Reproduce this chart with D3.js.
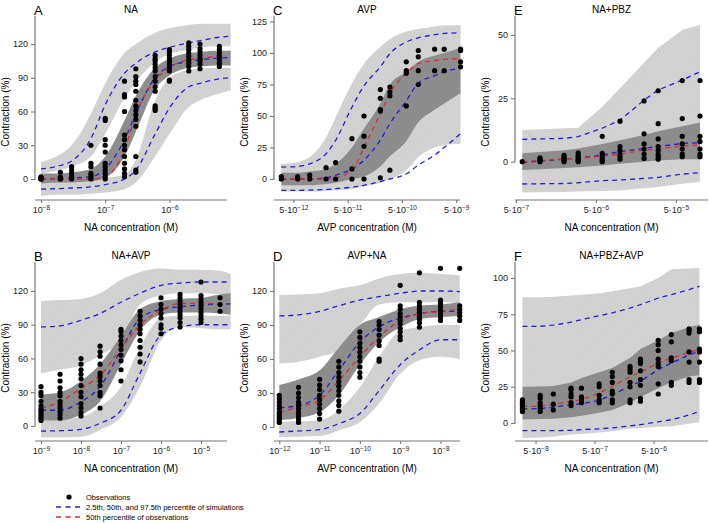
<!DOCTYPE html>
<html>
<head>
<meta charset="utf-8">
<script src="https://cdn.jsdelivr.net/npm/d3@7"></script>
<style>
  body { margin: 0; background: #fff; }
  svg { font-family: "Liberation Sans", Arial, Helvetica, sans-serif; }
</style>
</head>
<body>
<div id="chart"></div>
<script>
// ---- Panel A : NA ----
var concA = [1e-8, 2e-8, 3e-8, 6e-8, 1e-7, 2e-7, 3e-7, 6e-7, 1e-6, 2e-6, 3e-6, 6e-6];
var obsA = [
  [0, 0, 0, 1, 1, 2], [0, 0, 1, 2, 6], [0, 1, 2, 5, 8, 11], [0, 1, 3, 5, 11, 14, 30],
  [0, 2, 5, 8, 11, 14, 24, 30, 35, 52, 54],
  [2, 5, 9, 14, 20, 26, 30, 35, 39, 60, 73, 75, 87],
  [6, 8, 20, 47, 53, 57, 61, 65, 70, 78, 84, 87, 91, 98],
  [61, 63, 65, 78, 82, 87, 91, 96, 99, 102, 105, 107, 110],
  [87, 88, 96, 99, 102, 105, 107, 110, 113, 115],
  [96, 100, 103, 106, 109, 112, 115, 118, 121],
  [98, 102, 105, 107, 110, 113, 116, 120],
  [100, 103, 106, 109, 112, 115, 118]
];
var obsMedA = [0, 0, 0, 0, 2, 26, 57, 88, 99, 106, 107, 110];
var simConcA = [1e-8, 2e-8, 3e-8, 6e-8, 1e-7, 2e-7, 3e-7, 6e-7, 1e-6, 2e-6, 3e-6, 6e-6, 9e-6];
var p975A = [9, 12, 16, 36, 66, 94, 103, 113, 117, 121, 123, 126, 127];
var p50A = [0, 0.5, 1, 2, 9, 35, 58, 90, 100, 104.5, 106, 107.5, 108];
var p025A = [-9, -8.5, -8, -7, -5, 0, 8, 40, 63, 82, 85, 89, 90];
var ciHiA = [[5,15],[8,22],[11,30],[20,58],[40,85],[72,112],[86,120],[104,130],[111,134],[115,137],[117,138],[118,138],[118,138]];
var ciMedA = [[-4,5],[-3,5],[-3,6],[-2,9],[1,20],[20,52],[42,74],[80,99],[92,107],[99,112],[100,113],[101,114],[101,114]];
var ciLoA = [[-15,-2],[-14,-2],[-14,-1],[-13,0],[-12,1],[-9,4],[-3,17],[20,70],[40,90],[64,97],[70,98],[76,99],[79,99]];

// ---- Panel B : NA+AVP ----
var concB = [1e-9, 3e-9, 1e-8, 3e-8, 1e-7, 3e-7, 1e-6, 3e-6, 1e-5, 3e-5];
var obsB = [
  [5, 7, 9, 11, 13, 15, 18, 22, 27, 30, 35],
  [7, 10, 13, 16, 19, 22, 27, 30, 34, 40, 46],
  [9, 12, 16, 20, 26, 30, 36, 42, 46, 50, 55, 60],
  [16, 27, 30, 36, 40, 44, 47, 55, 62, 66, 71],
  [40, 50, 58, 63, 68, 72, 76, 80, 84, 86],
  [57, 64, 70, 76, 82, 86, 90, 94, 98, 102],
  [82, 87, 90, 96, 100, 104, 108, 114],
  [88, 92, 96, 99, 102, 105, 108, 111, 114, 117],
  [92, 95, 98, 101, 104, 107, 110, 113, 116, 128],
  [102, 108, 114]
];
var obsMedB = [15.7, 21.6, 33.5, 45, 69, 90, 103, 109, 109, 108.4];
var simConcB = [1e-9, 3e-9, 1e-8, 3e-8, 1e-7, 3e-7, 1e-6, 3e-6, 1e-5, 3e-5, 5.5e-5];
var p975B = [88, 89, 94, 100, 110, 118, 125, 127, 128, 128, 128];
var p50B = [14, 14, 21.6, 35, 67.5, 95.7, 103.7, 106, 107.5, 108.3, 108.5];
var p025B = [-4.5, -4.2, -3, 2.4, 14, 47, 81, 88, 90, 90, 90];
var ciHiB = [[47,111],[50,112],[54,113],[63,118],[76,130],[108,137],[116,140],[118,139],[118,139],[117,138],[116,135]];
var ciMedB = [[5,28],[5,30],[10,40],[22,55],[55,80],[85,104],[99,111],[101,113],[101,114],[100,117],[99,118]];
var ciLoB = [[-10,5],[-10,6],[-9.5,8],[-3.5,17],[8,35],[35,70],[76,96],[88,98],[87,98],[86,98],[86,98]];

// ---- Panel C : AVP ----
var concC = [3e-12, 6e-12, 1e-11, 2e-11, 3e-11, 6e-11, 1e-10, 2e-10, 3e-10, 6e-10, 1e-9, 2e-9, 3e-9, 6e-9];
var obsC = [[2, 0], [2, 0], [3, 0], [9, 0], [13, 0], [32, 8, 0], [50, 34, 26, 0], [71, 64, 55, 54, 1],
  [73, 69, 66, 7], [93, 86, 84, 58], [102, 97, 86, 75], [103, 86], [103, 86], [103, 102, 93, 89]];
var obsMedC = [0, 0, 0, 0, 1, 7, 25, 52, 68, 84, 91.5, 94, 95, 95.5];
var simConcC = concC;
var p975C = [9.5, 10, 12, 20, 30.7, 57, 74, 89, 99.5, 108.7, 112, 114.5, 115.5, 116];
var p50C = [0, 0, 0, 1, 3, 8, 15, 31, 44, 62, 76, 82, 85, 88];
var p025C = [-9, -9, -8.8, -8.3, -7.7, -6.5, -5, -2, 0, 4, 11, 19, 25, 36];
var ciHiC = [[4,12],[4,13.5],[5,17.5],[7,33],[10,49],[22,76],[38,91.5],[58,105],[72,111],[83,117],[90,119],[96,121],[98,122],[100,122]];
var ciMedC = [[-5,5],[-5,5],[-5,6],[-4,8],[-3,12],[0,25],[2,40],[10,60],[18,75],[30,85],[45,93],[55,98],[60,100],[68,104]];
var ciLoC = [[-10,-2],[-10,-2],[-10,-2],[-9.5,-1],[-9,0],[-8,3],[-6,6],[-3,14],[0,22],[7,35],[17.5,50],[25,60],[27,64],[28,70]];

// ---- Panel D : AVP+NA ----
var concD = [1e-12, 3e-12, 1e-11, 3e-11, 1e-10, 3e-10, 1e-9, 3e-9, 1e-8, 3e-8];
var obsD = [
  [4, 5, 7, 9, 11, 13, 16, 19, 22, 25, 28],
  [4, 7, 10, 13, 16, 19, 22, 26, 30, 35],
  [7, 12, 16, 20, 24, 28, 33, 37, 42],
  [14, 19, 23, 28, 32, 36, 40, 44, 48, 53, 58],
  [44, 48, 53, 58, 62, 66, 70, 74, 79, 84],
  [58, 60, 72, 76, 81, 86, 90, 93],
  [77, 80, 84, 87, 91, 94, 97, 100, 104, 107, 125],
  [88, 92, 95, 98, 101, 104, 107, 110, 136],
  [94, 97, 100, 103, 106, 109, 112, 140],
  [94, 98, 101, 104, 107, 140]
];
var obsMedD = [13, 17.7, 23.6, 41, 62, 79.6, 94, 100, 102, 104];
var simConcD = concD;
var p975D = [98, 99, 102, 107, 112, 115, 118, 120, 120, 119.5];
var p50D = [17, 19, 28, 50, 75, 88.5, 96, 100, 102, 102];
var p025D = [-4.4, -3.5, -2.4, 3, 12, 32, 55, 68, 77, 77];
var ciHiD = [[56,116.5],[57.5,117],[62,118],[68,122],[90,125],[108,131],[110,135],[110,136],[110,135],[109,134]];
var ciMedD = [[6,37],[8,42],[13,50],[28,70],[55,90],[75,97],[88,104],[95,107],[97,108],[98,110]];
var ciLoD = [[-9,4.4],[-8.5,5],[-8,6],[-3,15],[4.4,35],[20.6,62],[47,85],[59,88],[62,90],[60,90]];

// ---- Panel E : NA+PBZ ----
var concE = [6e-7, 1e-6, 2e-6, 3e-6, 6e-6, 1e-5, 2e-5, 3e-5, 6e-5, 1e-4];
var obsE = [
  [0], [0, 0.5, 1, 1.5], [0, 0.6, 1.3, 2, 2.5], [0, 0.3, 1, 1.8, 2.5, 3.5],
  [0, 0.5, 1.2, 2.2, 3.3, 10], [1, 2, 3, 4.5, 6, 16], [1.3, 3, 5, 7, 11, 24],
  [1, 2, 3, 4.5, 6, 9, 15, 28], [2, 3, 5, 7, 10, 17, 32], [2, 3, 5, 8, 10, 18, 32]
];
var obsMedE = [0, 0.5, 1, 1.3, 2.2, 3, 4.6, 5, 6.2, 6.6];
var simConcE = concE;
var p975E = [8.8, 9, 9.2, 9.9, 13.2, 16.4, 24.3, 28.3, 32.2, 35.5];
var p50E = [-0.3, 0.2, 1, 1.5, 2.6, 4, 5.3, 6, 7.2, 7.5];
var p025E = [-8.8, -8.7, -8.6, -8.3, -7.5, -7.2, -6.6, -6.2, -4.9, -4.3];
var ciHiE = [[3,12.5],[3.5,12.8],[4,13.2],[5,13.4],[6.5,21.7],[8,29],[10,39],[11.5,45],[13.5,52],[15,54]];
var ciMedE = [[-3.3,3.3],[-3,3.8],[-2.5,4.5],[-2.2,5.2],[-1.5,7],[-0.8,8.5],[0,10.5],[0.5,12],[1,14],[1,15.5]];
var ciLoE = [[-12.2,-3],[-12.1,-2.7],[-12,-2.2],[-11.8,-2],[-11.6,-1.2],[-11.4,-0.5],[-10.5,0.3],[-10,0.8],[-8.7,1.3],[-8,1.3]];

// ---- Panel F : NA+PBZ+AVP ----
var concF = [3e-8, 6e-8, 1e-7, 2e-7, 3e-7, 6e-7, 1e-6, 2e-6, 3e-6, 6e-6, 1e-5, 2e-5, 3e-5];
var obsF = [
  [8, 9, 10, 11, 12, 13, 14, 15, 16], [8, 10, 12, 14, 17, 19], [9, 13, 20],
  [12, 14, 18, 20, 23, 24], [14, 16, 18, 24], [14, 16, 19, 25, 27],
  [14, 16, 20, 22, 28, 32, 35], [14, 16, 25, 28, 35, 37, 39], [15, 17, 26, 30, 36, 41, 42, 44],
  [20, 27, 39, 41, 44, 50, 54, 57], [26, 28, 43, 45, 56, 61], [28, 30, 42, 49, 62, 64, 65],
  [28, 30, 42, 49, 51, 63, 65]
];
var obsMedF = [11.5, 11.5, 13, 15, 16, 20.7, 25.3, 32, 35, 41.4, 44.8, 48.7, 50.6];
var simConcF = concF;
var p975F = [66.7, 66.7, 67.5, 69.5, 71.3, 74, 75.9, 79.3, 81.6, 86.2, 88.5, 92, 94.3];
var p50F = [9.7, 9.9, 11, 12.6, 13.3, 15.6, 19.5, 25.3, 28.7, 36.8, 41.4, 47, 49.4];
var p025F = [-5.3, -5.3, -5.3, -5.1, -4.6, -4, -3.4, -2, -1.1, 0.8, 2.3, 5.5, 8];
var ciHiF = [[24,86.7],[24,86.7],[25,87],[27,88],[30,88.5],[34,89.5],[37,90.8],[44,93],[50,94.3],[56,100],[61,106],[65,106.5],[67,107]];
var ciMedF = [[2.5,25],[2.7,25.2],[3,25.5],[4,28],[5,31],[7,35],[9,38],[14,45],[18,51],[24,57],[28,62],[32,66],[33,68]];
var ciLoF = [[-10.3,3],[-10,3.2],[-9.5,3.5],[-8,4.5],[-7.5,5.5],[-6.5,7.5],[-5.7,9.5],[-4,14.5],[-3.4,18.5],[-2.5,24.5],[-2.3,28.5],[-0.5,32.5],[0.5,33.5]];

// tick values
var ticksA = [1e-8, 1e-7, 1e-6], ticksB = [1e-9, 1e-8, 1e-7, 1e-6, 1e-5];
var ticksC = [5e-12, 5e-11, 5e-10, 5e-9], ticksD = [1e-12, 1e-11, 1e-10, 1e-9, 1e-8];
var ticksE = [5e-7, 5e-6, 5e-5], ticksF = [5e-8, 5e-7, 5e-6];
var yTicks120 = [0, 30, 60, 90, 120], yTicks125 = [0, 25, 50, 75, 100, 125];
var yTicks50 = [0, 25, 50], yTicks100 = [0, 25, 50, 75, 100];

var legendLabels = ["Observations", "2.5th, 50th, and 97.5th percentile of simulations", "50th percentile of observations"];

// ---- layout ----
var width = 709, height = 523;
var blue = "#1f1fd6", red = "#e02a2a", axisCol = "#777";

var svg = d3.select("#chart").append("svg")
    .attr("width", width).attr("height", height);

var defs = svg.append("defs");
function hatch(id, base, stroke) {
  var p = defs.append("pattern").attr("id", id)
      .attr("patternUnits", "userSpaceOnUse")
      .attr("width", 3).attr("height", 3)
      .attr("patternTransform", "rotate(30)");
  p.append("rect").attr("width", 3).attr("height", 3).attr("fill", base);
  p.append("line").attr("x1", 0.5).attr("y1", 0).attr("x2", 0.5).attr("y2", 3)
      .attr("stroke", stroke).attr("stroke-width", 0.8);
}
hatch("hlight", "#d4d4d4", "#cacaca");
hatch("hdark", "#8f8f8f", "#878787");

var panels = [
  {letter: "A", title: "NA", xlab: "NA concentration (M)", conc: concA, obs: obsA, med: obsMedA,
   sim: simConcA, p025: p025A, p50: p50A, p975: p975A, lo: ciLoA, mid: ciMedA, hi: ciHiA,
   xDom: [1e-8, 1e-6], xRng: [41, 169.4], yDom: [0, 120], yRng: [179, 44],
   ax: 35, axEnd: 227, top: 16, base: 200, xt: ticksA, yt: yTicks120, five: false, smooth: true},
  {letter: "C", title: "AVP", xlab: "AVP concentration (M)", conc: concC, obs: obsC, med: obsMedC,
   sim: simConcC, p025: p025C, p50: p50C, p975: p975C, lo: ciLoC, mid: ciMedC, hi: ciHiC,
   xDom: [1e-10, 1e-9], xRng: [364, 418.3], yDom: [0, 100], yRng: [179, 53],
   ax: 274, axEnd: 460, top: 16, base: 200, xt: ticksC, yt: yTicks125, five: true, smooth: true},
  {letter: "E", title: "NA+PBZ", xlab: "NA concentration (M)", conc: concE, obs: obsE, med: obsMedE,
   sim: simConcE, p025: p025E, p50: p50E, p975: p975E, lo: ciLoE, mid: ciMedE, hi: ciHiE,
   xDom: [1e-6, 1e-5], xRng: [540, 620], yDom: [0, 50], yRng: [161.7, 35],
   ax: 515, axEnd: 708, top: 16, base: 200, xt: ticksE, yt: yTicks50, five: true, smooth: false},
  {letter: "B", title: "NA+AVP", xlab: "NA concentration (M)", conc: concB, obs: obsB, med: obsMedB,
   sim: simConcB, p025: p025B, p50: p50B, p975: p975B, lo: ciLoB, mid: ciMedB, hi: ciHiB,
   xDom: [1e-9, 1e-5], xRng: [41, 201], yDom: [0, 120], yRng: [426, 291],
   ax: 35, axEnd: 227, top: 262, base: 441, xt: ticksB, yt: yTicks120, five: false, smooth: true},
  {letter: "D", title: "AVP+NA", xlab: "AVP concentration (M)", conc: concD, obs: obsD, med: obsMedD,
   sim: simConcD, p025: p025D, p50: p50D, p975: p975D, lo: ciLoD, mid: ciMedD, hi: ciHiD,
   xDom: [1e-12, 1e-8], xRng: [279.3, 440.5], yDom: [0, 120], yRng: [427, 291],
   ax: 274, axEnd: 460, top: 262, base: 441, xt: ticksD, yt: yTicks120, five: false, smooth: true},
  {letter: "F", title: "NA+PBZ+AVP", xlab: "NA concentration (M)", conc: concF, obs: obsF, med: obsMedF,
   sim: simConcF, p025: p025F, p50: p50F, p975: p975F, lo: ciLoF, mid: ciMedF, hi: ciHiF,
   xDom: [1e-7, 1e-6], xRng: [553.3, 612.3], yDom: [0, 100], yRng: [423, 278],
   ax: 515, axEnd: 708, top: 262, base: 441, xt: ticksF, yt: yTicks100, five: true, smooth: false}
];

panels.forEach(drawPanel);

function drawPanel(p) {
  var x = d3.scaleLog().domain(p.xDom).range(p.xRng);
  var y = d3.scaleLinear().domain(p.yDom).range(p.yRng);
  var curve = p.smooth ? d3.curveMonotoneX : d3.curveLinear;
  var g = svg.append("g");

  function band(arr) {
    return d3.area().curve(curve)
      .x(function (d, i) { return x(p.sim[i]); })
      .y0(function (d) { return y(d[0]); })
      .y1(function (d) { return y(d[1]); })(arr);
  }
  function line(vals, xs) {
    return d3.line().curve(curve)
      .x(function (d, i) { return x(xs[i]); })
      .y(function (d) { return y(d); })(vals);
  }

  // confidence bands of simulated percentiles
  g.append("path").attr("d", band(p.hi)).attr("fill", "url(#hlight)");
  g.append("path").attr("d", band(p.lo)).attr("fill", "url(#hlight)");
  g.append("path").attr("d", band(p.mid)).attr("fill", "url(#hdark)");

  // simulated percentiles
  [p.p025, p.p50, p.p975].forEach(function (s) {
    g.append("path").attr("d", line(s, p.sim))
      .attr("fill", "none").attr("stroke", blue)
      .attr("stroke-width", 1.3).attr("stroke-dasharray", "5,4");
  });
  // observed median
  g.append("path").attr("d", line(p.med, p.conc))
    .attr("fill", "none").attr("stroke", red)
    .attr("stroke-width", 1.3).attr("stroke-dasharray", "5,4");

  // observations
  var pts = [];
  p.conc.forEach(function (c, i) {
    p.obs[i].forEach(function (v) { pts.push({c: c, v: v}); });
  });
  g.selectAll("circle.obs").data(pts).enter().append("circle")
    .attr("class", "obs")
    .attr("cx", function (d) { return x(d.c); })
    .attr("cy", function (d) { return y(d.v); })
    .attr("r", 2.6).attr("fill", "#000");

  // axes
  var yAxis = g.append("g").attr("transform", "translate(" + p.ax + ",0)")
    .call(d3.axisLeft(y).tickValues(p.yt).tickSize(4).tickPadding(3));
  yAxis.select(".domain").remove();
  yAxis.append("line").attr("y1", p.top).attr("y2", y(0) + 0.5)
    .attr("stroke", axisCol).attr("stroke-width", 1.2);

  var xAxis = g.append("g").attr("transform", "translate(0," + p.base + ")")
    .call(d3.axisBottom(x).tickValues(p.xt).tickSize(3).tickPadding(4));
  xAxis.select(".domain").remove();
  xAxis.append("line").attr("x1", p.ax).attr("x2", p.axEnd)
    .attr("stroke", axisCol).attr("stroke-width", 1.2);

  [yAxis, xAxis].forEach(function (a) {
    a.selectAll(".tick line").attr("stroke", axisCol).attr("stroke-width", 1.1);
    a.selectAll(".tick text").attr("fill", "#222").attr("font-size", 9);
  });

  xAxis.selectAll(".tick text").each(function (d) {
    var t = d3.select(this).text("");
    var e = Math.round(Math.log10(d / (p.five ? 5 : 1)));
    t.append("tspan").text(p.five ? "5\u00b710" : "10");
    t.append("tspan").attr("font-size", 6.5).attr("dy", "-0.55em").text("\u2212" + Math.abs(e));
  });

  // titles
  var cx = (p.ax + p.axEnd) / 2;
  svg.append("text").attr("x", p.ax - 1).attr("y", p.top - 1)
    .attr("font-size", 13).attr("fill", "#000").text(p.letter);
  svg.append("text").attr("x", cx).attr("y", p.top - 3)
    .attr("text-anchor", "middle").attr("font-size", 10).attr("fill", "#000").text(p.title);
  svg.append("text").attr("x", cx).attr("y", p.base + 31)
    .attr("text-anchor", "middle").attr("font-size", 10).attr("fill", "#000").text(p.xlab);
  var cy = p.top + 96;
  svg.append("text")
    .attr("transform", "translate(" + (p.ax - 26) + "," + cy + ") rotate(-90)")
    .attr("text-anchor", "middle").attr("font-size", 10).attr("fill", "#000").text("Contraction (%)");
}

// legend
var lg = svg.append("g").attr("font-size", 7.5).attr("fill", "#000");
lg.append("circle").attr("cx", 69).attr("cy", 497).attr("r", 2.6).attr("fill", "#000");
lg.append("line").attr("x1", 56).attr("x2", 82).attr("y1", 507).attr("y2", 507)
  .attr("stroke", blue).attr("stroke-width", 1.3).attr("stroke-dasharray", "5,4.5");
lg.append("line").attr("x1", 56).attr("x2", 82).attr("y1", 517).attr("y2", 517)
  .attr("stroke", red).attr("stroke-width", 1.3).attr("stroke-dasharray", "5,4.5");
lg.selectAll("text.lab").data(legendLabels).enter().append("text")
  .attr("class", "lab")
  .attr("x", 86).attr("y", function (d, i) { return 500 + i * 10; })
  .attr("fill", "#000")
  .text(function (d) { return d; });
</script>
</body>
</html>
